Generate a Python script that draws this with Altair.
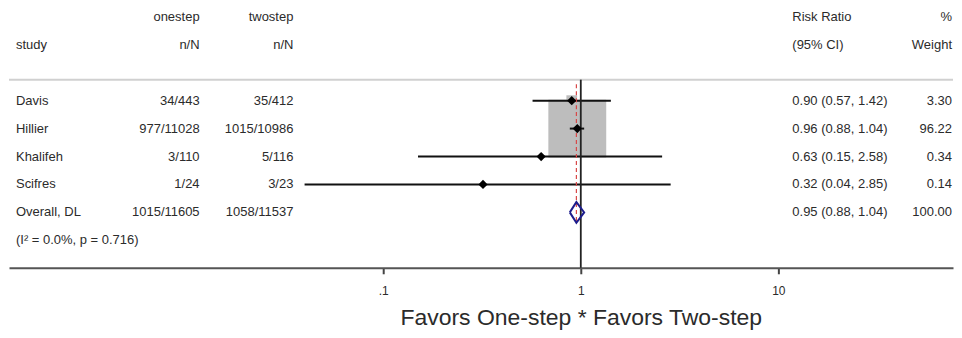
import altair as alt
import pandas as pd

# ---- data ----
studies = ["Davis", "Hillier", "Khalifeh", "Scifres"]
one_events = [34, 977, 3, 1]
one_total = [443, 11028, 110, 24]
two_events = [35, 1015, 5, 3]
two_total = [412, 10986, 116, 23]
rr = [0.90, 0.96, 0.63, 0.32]
rr_lo = [0.57, 0.88, 0.15, 0.04]
rr_hi = [1.42, 1.04, 2.58, 2.85]
weights = [3.30, 96.22, 0.34, 0.14]

overall_label = "Overall, DL"
overall_one = "1015/11605"
overall_two = "1058/11537"
overall_rr = 0.95
overall_lo = 0.88
overall_hi = 1.04
overall_weight = 100.00
het_label = "(I\u00b2 = 0.0%, p = 0.716)"

header_top = ["", "onestep", "twostep", "Risk Ratio", "%"]
header_bottom = ["study", "n/N", "n/N", "(95% CI)", "Weight"]
axis_ticks = [0.1, 1, 10]
axis_title = "Favors One-step * Favors Two-step"

# ---- tables built from the arrays ----
first_row = 3
study_rows = [first_row + i for i in range(len(studies))]
overall_row = first_row + len(studies)
het_row = overall_row + 1

studies_df = pd.DataFrame({
    "row": study_rows,
    "rr": rr, "lo": rr_lo, "hi": rr_hi, "w": weights,
})

text_rows = []
text_rows.append(dict(row=0, c0=header_top[0], c1=header_top[1], c2=header_top[2],
                      c3=header_top[3], c4=header_top[4]))
text_rows.append(dict(row=1, c0=header_bottom[0], c1=header_bottom[1], c2=header_bottom[2],
                      c3=header_bottom[3], c4=header_bottom[4]))
for i, s in enumerate(studies):
    text_rows.append(dict(
        row=study_rows[i], c0=s,
        c1=f"{one_events[i]}/{one_total[i]}",
        c2=f"{two_events[i]}/{two_total[i]}",
        c3=f"{rr[i]:.2f} ({rr_lo[i]:.2f}, {rr_hi[i]:.2f})",
        c4=f"{weights[i]:.2f}",
    ))
text_rows.append(dict(row=overall_row, c0=overall_label, c1=overall_one, c2=overall_two,
                      c3=f"{overall_rr:.2f} ({overall_lo:.2f}, {overall_hi:.2f})",
                      c4=f"{overall_weight:.2f}"))
text_rows.append(dict(row=het_row, c0=het_label, c1="", c2="", c3="", c4=""))
text_df = pd.DataFrame(text_rows)

dh = 0.37
diamond_df = pd.DataFrame({
    "x": [overall_lo, overall_rr, overall_hi, overall_rr, overall_lo],
    "row": [overall_row, overall_row - dh, overall_row, overall_row + dh, overall_row],
    "o": [0, 1, 2, 3, 4],
})
overall_df = pd.DataFrame({"x": [overall_rr]})
null_df = pd.DataFrame({"x": [1.0]})

# ---- scales ----
W, H = 946, 260
x_at_one = 573.0
px_decade = 198.0
x_scale = alt.Scale(type="log",
                    domain=[10 ** (-x_at_one / px_decade), 10 ** ((W - x_at_one) / px_decade)],
                    nice=False)
y_scale = alt.Scale(domain=[-8.5 / 28, (H - 8.5) / 28], reverse=True, nice=False, zero=False)

FONT = "Liberation Sans"
TXT = "#2b2b2b"
FS = 13

x_axis = alt.Axis(values=axis_ticks, labelExpr="datum.value < 0.5 ? '.1' : datum.label",
                  grid=False, domainColor="#555555", domainWidth=2, tickColor="#444444",
                  tickWidth=2, tickSize=6, labelFontSize=12, labelColor=TXT, labelPadding=12,
                  labelFont=FONT, title=axis_title, titleFont=FONT, titleFontSize=23,
                  titleFontWeight="normal", titleColor=TXT, titleX=x_at_one, titleY=57,
                  titleAlign="center", titleBaseline="alphabetic")

boxes = alt.Chart(studies_df).mark_square(filled=True, color="#bdbdbd", opacity=1).encode(
    x=alt.X("rr:Q", scale=x_scale, axis=x_axis),
    y=alt.Y("row:Q", scale=y_scale, axis=None),
    size=alt.Size("w:Q", scale=alt.Scale(domain=[0, 96.22], range=[0, 3364]), legend=None),
)

ci = alt.Chart(studies_df).mark_rule(color="#111111", strokeWidth=2).encode(
    x=alt.X("lo:Q", scale=x_scale, axis=x_axis),
    x2="hi:Q",
    y=alt.Y("row:Q", scale=y_scale, axis=None),
)

null_line = alt.Chart(null_df).mark_rule(color="#222222", strokeWidth=1.8).encode(
    x=alt.X("x:Q", scale=x_scale, axis=x_axis),
    y=alt.value(71.5), y2=alt.value(H),
)

overall_line = alt.Chart(overall_df).mark_rule(color="#d84848", strokeWidth=1.2,
                                               strokeDash=[4, 3]).encode(
    x=alt.X("x:Q", scale=x_scale, axis=x_axis),
    y=alt.value(76), y2=alt.value(214),
)

points = alt.Chart(studies_df).mark_point(shape="diamond", filled=True, color="#000000",
                                          opacity=1, size=85).encode(
    x=alt.X("rr:Q", scale=x_scale, axis=x_axis),
    y=alt.Y("row:Q", scale=y_scale, axis=None),
)

diamond = alt.Chart(diamond_df).mark_line(color="#1c1c8c", strokeWidth=2).encode(
    x=alt.X("x:Q", scale=x_scale, axis=x_axis),
    y=alt.Y("row:Q", scale=y_scale, axis=None),
    order="o:Q",
)

separator = alt.Chart(null_df).mark_rule(color="#d0d0d0", strokeWidth=2).encode(
    x=alt.value(0), x2=alt.value(W), y=alt.value(71.5),
)


def col(field, xpos, align):
    return alt.Chart(text_df).mark_text(align=align, baseline="middle", font=FONT,
                                        fontSize=FS, color=TXT).encode(
        x=alt.value(xpos),
        y=alt.Y("row:Q", scale=y_scale, axis=None),
        text=f"{field}:N",
    )


texts = [col("c0", 7, "left"), col("c1", 191, "right"), col("c2", 285, "right"),
         col("c3", 785, "left"), col("c4", W - 1, "right")]

chart = alt.layer(boxes, separator, ci, null_line, overall_line, points, diamond, *texts).properties(
    width=W, height=H, padding=0, background="white",
).configure_view(stroke=None)

chart.save("out.html", embed_options={"renderer": "svg", "actions": False})
